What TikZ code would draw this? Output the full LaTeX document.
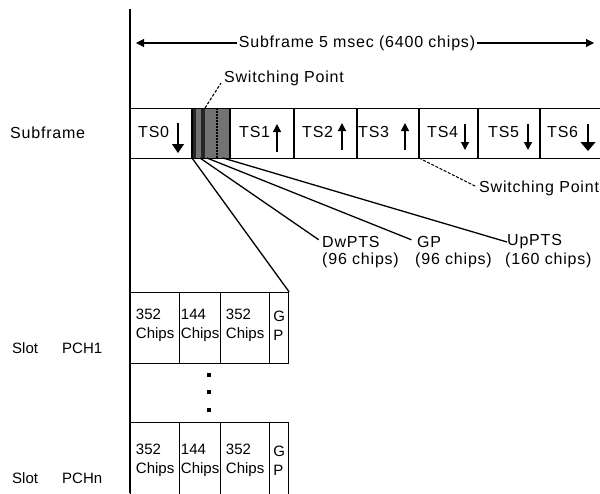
\documentclass[tikz,border=0pt]{standalone}
\usepackage{fontspec}
\setmainfont{Liberation Sans}
\newfontfamily\lsfont{Liberation Sans}[LetterSpace=5]
\usetikzlibrary{arrows.meta}
\begin{document}
\begin{tikzpicture}[x=1pt,y=-1pt,
  txt/.style={font=\lsfont\fontsize{16}{18}\selectfont, inner sep=0pt},
  rowlbl/.style={font=\fontsize{15}{17}\selectfont, inner sep=0pt, anchor=west},
  celltxt/.style={font=\fontsize{15}{19}\selectfont, align=left},
  frame/.style={draw, line width=1.2pt, inner sep=0pt, anchor=north west},
  cell/.style={frame, minimum height=71pt},
  cellb/.style={frame, minimum height=76pt},
  div/.style={line width=1.2pt},
  fan/.style={line width=1.3pt},
  spdash/.style={line width=1.1pt, dash pattern=on 3pt off 1.6pt},
  dnbig/.style={line width=1.2pt, -{Triangle[width=12pt,length=9pt]}},
  dnsmall/.style={line width=1.2pt, -{Triangle[width=8pt,length=8pt]}},
  dnwide/.style={line width=1.2pt, -{Triangle[width=15pt,length=9pt]}},
  dimarrow/.style={line width=1.1pt, -{Triangle[width=8pt,length=8pt]}},
  dot/.style={fill, inner sep=0pt, minimum size=4.5pt},
]
\useasboundingbox (0,0) rectangle (600,493);

% main vertical axis
\coordinate (axtop) at (130,9);
\coordinate (axbot) at (130,493);
\draw[line width=1.6pt] (axtop) -- (axbot);

% top dimension arrow
\node[txt, inner xsep=2pt] (sf) at (357,43) {Subframe 5 msec (6400 chips)};
\coordinate (sfl) at (136,43);
\coordinate (sfr) at (594,43);
\draw[dimarrow] (sf.west) -- (sfl);
\draw[dimarrow] (sf.east) -- (sfr);

% special (switching) region shading
\fill[black!55] (192,108) rectangle (230,158);
\draw[black!85, line width=4pt] (194,108) -- (194,158);
\draw[black!85, line width=3.5pt] (203,108) -- (203,158);
\draw[line width=1.3pt, dash pattern=on 1.5pt off 1.5pt] (217,108) -- (217,158);

% subframe frame
\node[frame, minimum width=472pt, minimum height=50pt] (sub) at (130,108) {};
\foreach \x in {192,230,294,357,419,478,540}
  \draw[div] (\x,108) -- (\x,158);

% row label
\node[txt, anchor=west] (lsub) at (10,133) {Subframe};

% time slot labels
\node[txt, anchor=west] (ts0) at (138,132) {TS0};
\node[txt, anchor=west] (ts1) at (239,132) {TS1};
\node[txt, anchor=west] (ts2) at (302,132) {TS2};
\node[txt, anchor=west] (ts3) at (358,132) {TS3};
\node[txt, anchor=west] (ts4) at (427,132) {TS4};
\node[txt, anchor=west] (ts5) at (488,132) {TS5};
\node[txt, anchor=west] (ts6) at (547,132) {TS6};

% direction arrows
\draw[dnbig]   (178,123) -- (178,153);
\draw[dnsmall] (277,152) -- (277,124);
\draw[dnsmall] (342,150) -- (342,123);
\draw[dnsmall] (405,150) -- (405,123);
\draw[dnsmall] (465,124) -- (465,150);
\draw[dnsmall] (528,124) -- (528,150);
\draw[dnwide]  (588,124) -- (588,151);

% switching points
\node[txt] (sp1) at (284,78) {Switching Point};
\coordinate (sp1a) at (205,108);
\coordinate (sp1b) at (221,83);
\draw[spdash] (sp1a) -- (sp1b);
\node[txt, anchor=west] (sp2) at (479,188) {Switching Point};
\coordinate (sp2a) at (419,158);
\draw[spdash, shorten >=3pt] (sp2a) -- (sp2.west);

% special field labels
\node[txt, anchor=west] (dw1) at (322,242) {DwPTS};
\node[txt, anchor=west] (dw2) at (322,260) {(96 chips)};
\node[txt, anchor=west] (gp1) at (417,242) {GP};
\node[txt, anchor=west] (gp2) at (415,260) {(96 chips)};
\node[txt, anchor=west] (up1) at (507,242) {UpPTS};
\node[txt, anchor=west] (up2) at (505,260) {(160 chips)};

% fan-out connectors
\coordinate (f0) at (192,158);
\coordinate (f1) at (200,158);
\coordinate (f2) at (207,158);
\coordinate (f3) at (223,158);
\draw[fan, shorten >=4pt] (f1) -- (dw1.west);
\draw[fan, shorten >=6pt] (f2) -- (gp1.west);
\draw[fan] (f3) -- (up1.west);

% slot PCH1
\node[cell, minimum width=49pt] (c11) at (130,292) {};
\node[cell, minimum width=41pt] (c12) at (179,292) {};
\node[cell, minimum width=49pt] (c13) at (220,292) {};
\node[cell, minimum width=19pt] (c14) at (269,292) {};
\node[celltxt] (t11) at ([yshift=2.5pt]c11.center) {352\\Chips};
\node[celltxt] (t12) at ([yshift=2.5pt]c12.center) {144\\Chips};
\node[celltxt] (t13) at ([yshift=2.5pt]c13.center) {352\\Chips};
\node[celltxt] (t14) at ([yshift=2.5pt]c14.center) {G\\P};
\draw[fan] (f0) -- (c14.north east);
\node[rowlbl] (s1a) at (12,348) {Slot};
\node[rowlbl] (s1b) at (62,348) {PCH1};

% dots
\node[dot] (d1) at (209,375) {};
\node[dot] (d2) at (209,392) {};
\node[dot] (d3) at (209,410) {};

% slot PCHn
\node[cellb, minimum width=49pt] (c21) at (130,422) {};
\node[cellb, minimum width=41pt] (c22) at (179,422) {};
\node[cellb, minimum width=49pt] (c23) at (220,422) {};
\node[cellb, minimum width=19pt] (c24) at (269,422) {};
\node[celltxt] (t21) at (c21.center) {352\\Chips};
\node[celltxt] (t22) at (c22.center) {144\\Chips};
\node[celltxt] (t23) at (c23.center) {352\\Chips};
\node[celltxt] (t24) at (c24.center) {G\\P};
\node[rowlbl] (s2a) at (12,478) {Slot};
\node[rowlbl] (s2b) at (62,478) {PCHn};
\end{tikzpicture}
\end{document}
